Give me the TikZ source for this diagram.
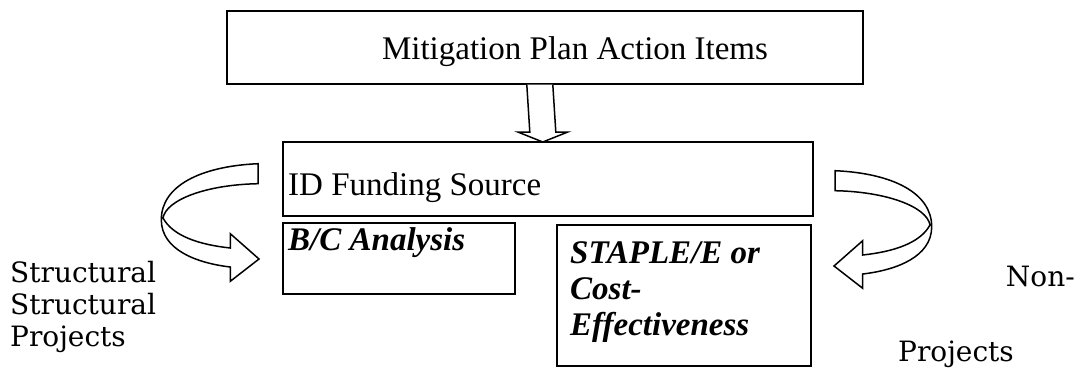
\documentclass[tikz,border=0pt]{standalone}
\usepackage{fontspec}
\setmainfont{Liberation Serif}
\newfontfamily\lblfont{DejaVu Serif}
\usetikzlibrary{calc}
\begin{document}
\begin{tikzpicture}[x=1pt,y=-1pt,
  box/.style={draw, line width=1.6pt, fill=white, inner sep=0pt, anchor=north west},
  maintext/.style={anchor=base west, inner sep=0pt, font=\fontsize{33}{36}\selectfont},
  boldtext/.style={maintext, font=\fontsize{33}{36}\selectfont\bfseries\itshape},
  sidelabel/.style={anchor=base west, inner sep=0pt, font=\lblfont\fontsize{28}{32}\selectfont},
  arrowshape/.style={draw, line width=1.5pt, fill=white, line join=miter}]
\useasboundingbox (0,0) rectangle (1081,367);

% boxes
\node[box, minimum width=636pt, minimum height=73pt] (mit) at (226,10) {};
\node[maintext, anchor=base] (mittxt) at (575,59) {Mitigation Plan Action Items};

\node[box, minimum width=530pt, minimum height=74pt] (fund) at (282,141) {};
\node[maintext] (fundtxt) at (288,195) {ID Funding Source};

\node[box, minimum width=232pt, minimum height=71pt] (bc) at (282,222) {};
\node[boldtext] (bctxt) at (288,250) {B/C Analysis};

\node[box, minimum width=254pt, minimum height=141pt] (staple) at (556,224) {};
\node[boldtext] (st1) at (570,263) {STAPLE/E or};
\node[boldtext] (st2) at (570,299) {Cost-};
\node[boldtext] (st3) at (570,335) {Effectiveness};

% block arrow down from mit to fund
\draw[arrowshape]
  ($(mit.south)+(-18,0)$) -- ($(fund.north)+(-18,-9)$) -- ($(fund.north)+(-30,-9)$)
  -- ($(fund.north)+(-5,1)$) -- ($(fund.north)+(20,-9)$) -- ($(fund.north)+(8,-9)$)
  -- ($(mit.south)+(8,0)$);

% left curved arrow
\draw[arrowshape]
  (258,163.7) .. controls (199.7,166.3) and (161.3,186.3) .. (161.3,219.7)
  .. controls (161.3,249.7) and (196.3,263) .. (230.3,267)
  -- (230.3,281.3) -- (259,259) -- (230.3,233.7) -- (230.3,248)
  .. controls (199.7,244.7) and (173,236.3) .. (163,218)
  .. controls (166.3,199.7) and (206.3,184.7) .. (258,183.7) -- cycle;

% right curved arrow
\draw[arrowshape]
  (835,170.7) .. controls (893.3,173.3) and (931.7,193.3) .. (931.7,226.7)
  .. controls (931.7,256.7) and (896.7,270) .. (862.7,274)
  -- (862.7,288.3) -- (834,266) -- (862.7,240.7) -- (862.7,255)
  .. controls (893.3,251.7) and (920,243.3) .. (930,225)
  .. controls (926.7,206.7) and (886.7,191.7) .. (835,190.7) -- cycle;

% side labels
\node[sidelabel] (s1) at (10,282) {Structural};
\node[sidelabel] (s2) at (10,314) {Structural};
\node[sidelabel] (p1) at (10,346) {Projects};
\node[sidelabel, anchor=base east] (non) at (1075,286) {Non-};
\node[sidelabel] (p2) at (898,361) {Projects};
\end{tikzpicture}
\end{document}
